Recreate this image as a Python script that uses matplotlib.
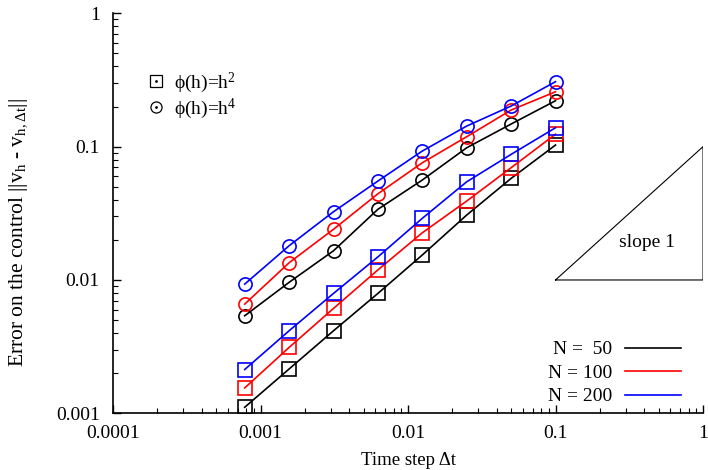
import matplotlib
matplotlib.use("Agg")
import matplotlib.pyplot as plt
from matplotlib.lines import Line2D
from matplotlib.legend_handler import HandlerTuple
from matplotlib.ticker import FixedLocator, FixedFormatter, LogLocator, NullFormatter

plt.rcParams['font.family'] = ['Liberation Serif', 'DejaVu Serif']
plt.rcParams['mathtext.fontset'] = 'custom'
plt.rcParams['mathtext.rm'] = 'Liberation Serif'
plt.rcParams['mathtext.it'] = 'Liberation Serif:italic'

# Data
dt = [0.00078125, 0.0015625, 0.003125, 0.00625, 0.0125, 0.025, 0.05, 0.1]

h2_N50 = [0.00111, 0.00215, 0.00416, 0.00793, 0.0154, 0.0307, 0.0578, 0.1028]
h2_N100 = [0.00155, 0.00312, 0.00612, 0.0119, 0.0226, 0.0391, 0.0695, 0.124]
h2_N200 = [0.00213, 0.00416, 0.00793, 0.0149, 0.0290, 0.0545, 0.0875, 0.1386]

h4_N50 = [0.00539, 0.0096, 0.01656, 0.0339, 0.0562, 0.0981, 0.1478, 0.221]
h4_N100 = [0.00659, 0.01346, 0.0240, 0.0443, 0.0757, 0.1187, 0.1882, 0.258]
h4_N200 = [0.00931, 0.01806, 0.0325, 0.0552, 0.0927, 0.1427, 0.2016, 0.307]

x_ticks = [0.0001, 0.001, 0.01, 0.1, 1]
x_tick_labels = ['0.0001', '0.001', '0.01', '0.1', '1']
y_ticks = [0.001, 0.01, 0.1, 1]
y_tick_labels = ['0.001', '0.01', '0.1', '1']

n_labels = ['N =  50', 'N = 100', 'N = 200']
phi_labels = ['ϕ(h)=h$^2$', 'ϕ(h)=h$^4$']
colors = ['#000000', '#ff0000', '#0000ff']

# slope triangle (x, y in data)
tri_x = [0.1, 1, 1, 0.1]
tri_y = [0.01, 0.01, 0.1, 0.01]

FS = 14

fig = plt.figure(figsize=(7.08, 4.70), dpi=100)
ax = fig.add_axes([0.1596, 0.1206, 0.8334, 0.8511])

lw = 1.2
ms = 9.5
mew = 1.2
for ys, c in zip([h2_N50, h2_N100, h2_N200], colors):
    ax.plot(dt, ys, color=c, lw=lw, marker='s', ms=ms, mfc='none', mec=c, mew=mew)
for ys, c in zip([h4_N50, h4_N100, h4_N200], colors):
    ax.plot(dt, ys, color=c, lw=lw, marker='o', ms=ms, mfc='none', mec=c, mew=mew)

ax.plot(tri_x, tri_y, color='black', lw=0.8)
ax.text(0.42, 0.0192, 'slope 1', fontsize=FS, ha='center', va='center')

ax.set_xscale('log')
ax.set_yscale('log')
ax.set_xlim(0.0001, 1)
ax.set_ylim(0.001, 1)

ax.xaxis.set_major_locator(FixedLocator(x_ticks))
ax.xaxis.set_major_formatter(FixedFormatter(x_tick_labels))
ax.yaxis.set_major_locator(FixedLocator(y_ticks))
ax.yaxis.set_major_formatter(FixedFormatter(y_tick_labels))
ax.xaxis.set_minor_locator(LogLocator(base=10, subs=range(2, 10), numticks=20))
ax.yaxis.set_minor_locator(LogLocator(base=10, subs=range(2, 10), numticks=20))
ax.xaxis.set_minor_formatter(NullFormatter())
ax.yaxis.set_minor_formatter(NullFormatter())

ax.tick_params(which='major', direction='in', length=6, width=1, labelsize=FS)
ax.tick_params(which='minor', direction='in', length=3.5, width=0.8)
ax.tick_params(axis='x', which='major', pad=8.5)
ax.tick_params(axis='y', which='major', pad=9.5)

ax.spines['top'].set_visible(False)
ax.spines['right'].set_visible(False)
ax.spines['left'].set_linewidth(1.2)
ax.spines['bottom'].set_linewidth(1.2)

ax.set_xlabel('Time step Δt', fontsize=13.5)
ax.xaxis.set_label_coords(0.5, -0.097)
ax.set_ylabel(r'Error on the control ||v$_\mathrm{h}$ - v$_\mathrm{h,\Delta t}$||', fontsize=15.5)
ax.yaxis.set_label_coords(-0.140, 0.453)

# legend for phi
sq = Line2D([], [], ls='none', marker='s', ms=8, mfc='none', mec='black', mew=0.9)
ci = Line2D([], [], ls='none', marker='o', ms=8, mfc='none', mec='black', mew=0.9)
dot = Line2D([], [], ls='none', marker='.', ms=2, color='black')
leg1 = ax.legend([(sq, dot), (ci, dot)], phi_labels,
                 handler_map={tuple: HandlerTuple(ndivide=1, pad=0)},
                 loc='upper left', bbox_to_anchor=(0.057, 0.857), frameon=False,
                 fontsize=FS, handlelength=1.0, handletextpad=0.41, labelspacing=0.1,
                 borderpad=0, borderaxespad=0)
ax.add_artist(leg1)

# legend for N
handles = [Line2D([], [], color=c, lw=lw) for c in colors]
ax.legend(handles, n_labels, loc='lower right', bbox_to_anchor=(0.963, 0.02),
          frameon=False, markerfirst=False, fontsize=FS, handlelength=2.9,
          handletextpad=0.67, labelspacing=0.3, borderpad=0, borderaxespad=0)

fig.savefig('out.png', dpi=100)
